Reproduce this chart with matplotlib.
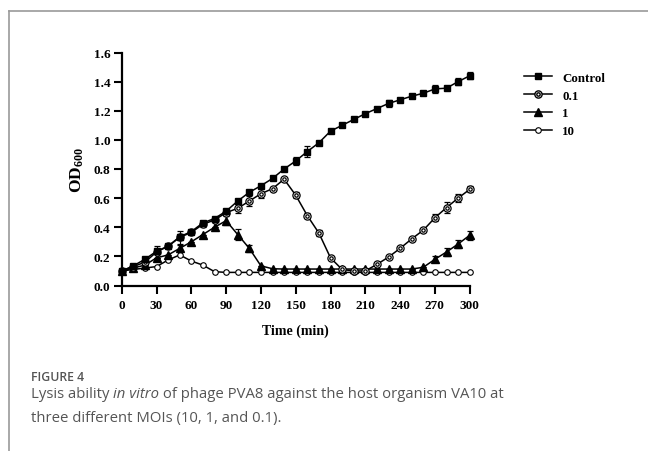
import matplotlib.pyplot as plt
from matplotlib.lines import Line2D
from matplotlib.legend_handler import HandlerTuple

plt.rcParams['font.family'] = ['Liberation Serif', 'DejaVu Serif']
plt.rcParams['mathtext.fontset'] = 'custom'
plt.rcParams['mathtext.bf'] = 'Liberation Serif:bold'
plt.rcParams['mathtext.rm'] = 'Liberation Serif:bold'

time_min = [0, 10, 20, 30, 40, 50, 60, 70, 80, 90, 100, 110, 120, 130, 140, 150,
            160, 170, 180, 190, 200, 210, 220, 230, 240, 250, 260, 270, 280, 290, 300]

control = [0.10, 0.135, 0.18, 0.235, 0.27, 0.335, 0.37, 0.43, 0.46, 0.51, 0.58, 0.64,
           0.685, 0.735, 0.80, 0.855, 0.92, 0.98, 1.06, 1.10, 1.14, 1.18, 1.215, 1.25,
           1.275, 1.30, 1.32, 1.35, 1.355, 1.40, 1.44]
control_err = [0, 0, 0, 0, 0, 0.02, 0, 0, 0, 0, 0, 0, 0, 0, 0, 0.03,
               0.035, 0, 0, 0, 0, 0, 0, 0.025, 0, 0, 0, 0.025, 0, 0.022, 0.025]

moi_01 = [0.10, 0.13, 0.16, 0.23, 0.27, 0.33, 0.365, 0.42, 0.45, 0.50, 0.53, 0.58,
          0.63, 0.665, 0.73, 0.62, 0.48, 0.36, 0.19, 0.11, 0.10, 0.10, 0.145, 0.195,
          0.255, 0.32, 0.38, 0.465, 0.535, 0.60, 0.66]
moi_01_err = [0, 0, 0, 0.04, 0, 0.045, 0, 0.02, 0, 0, 0.03, 0.035, 0.03, 0, 0, 0.02,
              0.015, 0.02, 0, 0, 0, 0, 0, 0, 0, 0, 0.015, 0.025, 0.035, 0.03, 0.02]

moi_1 = [0.10, 0.12, 0.14, 0.19, 0.21, 0.255, 0.30, 0.35, 0.40, 0.445, 0.35, 0.255,
         0.135, 0.115, 0.113, 0.113, 0.113, 0.113, 0.113, 0.113, 0.113, 0.113, 0.113,
         0.113, 0.113, 0.113, 0.125, 0.18, 0.23, 0.285, 0.345]
moi_1_err = [0, 0, 0, 0, 0, 0.02, 0, 0, 0, 0.03, 0.04, 0.025, 0, 0, 0, 0,
             0, 0, 0, 0, 0, 0, 0, 0, 0, 0, 0, 0.02, 0.03, 0.025, 0.03]

moi_10 = [0.10, 0.11, 0.12, 0.13, 0.175, 0.21, 0.168, 0.14, 0.095, 0.09, 0.09, 0.09,
          0.09, 0.09, 0.09, 0.09, 0.09, 0.09, 0.09, 0.09, 0.09, 0.09, 0.09, 0.09,
          0.09, 0.09, 0.09, 0.09, 0.09, 0.09, 0.09]

W, H = 648, 452
fig = plt.figure(figsize=(W / 100, H / 100), dpi=100)
ax = fig.add_axes([121.7 / W, (H - 286.5) / H, 348 / W, 233 / H])

common = dict(color='black', linewidth=1.1, ecolor='black', elinewidth=0.9,
              capsize=2, capthick=0.9, clip_on=False)

ax.errorbar(time_min, moi_10, marker='o', markersize=4.0, markerfacecolor='white',
            markeredgecolor='black', markeredgewidth=0.8, zorder=3, **common)
ax.errorbar(time_min, moi_1, yerr=moi_1_err, marker='^', markersize=5.2,
            markerfacecolor='black', zorder=4, **common)
ax.errorbar(time_min, moi_01, yerr=moi_01_err, marker='o', markersize=5.2,
            markerfacecolor='white', markeredgecolor='black', markeredgewidth=0.9,
            zorder=5, **common)
ax.plot(time_min, moi_01, linestyle='none', marker='o', markersize=2.4,
        markerfacecolor='none', markeredgecolor='black', markeredgewidth=0.9,
        zorder=6, clip_on=False)
ax.errorbar(time_min, control, yerr=control_err, marker='s', markersize=4.0,
            markerfacecolor='black', zorder=6, **common)

ax.set_xlim(0, 300)
ax.set_ylim(0, 1.6)
ax.set_xticks([0, 30, 60, 90, 120, 150, 180, 210, 240, 270, 300])
ax.set_yticks([0.0, 0.2, 0.4, 0.6, 0.8, 1.0, 1.2, 1.4, 1.6])
ax.set_yticklabels([f'{v:.1f}' for v in ax.get_yticks()])
for s in ['top', 'right']:
    ax.spines[s].set_visible(False)
for s in ['left', 'bottom']:
    ax.spines[s].set_linewidth(1.6)
ax.tick_params(direction='out', length=6, width=1.5, pad=2, labelsize=9.5)
ax.tick_params(axis='x', pad=4)
for lab in ax.get_xticklabels() + ax.get_yticklabels():
    lab.set_fontweight('bold')

ax.set_xlabel('Time (min)', fontsize=10, fontweight='bold', labelpad=9)
ax.set_ylabel(r'$\mathbf{OD_{600}}$', fontsize=12.5, labelpad=6)

# legend
h_ctrl = Line2D([], [], color='black', lw=1.1, marker='s', ms=4.0, mfc='black')
h_01a = Line2D([], [], color='black', lw=1.1, marker='o', ms=5.2, mfc='white', mec='black')
h_01b = Line2D([], [], color='none', marker='o', ms=2.4, mfc='none', mec='black')
h_1 = Line2D([], [], color='black', lw=1.1, marker='^', ms=5.2, mfc='black')
h_10 = Line2D([], [], color='black', lw=1.1, marker='o', ms=4.0, mfc='white', mec='black', mew=0.8)
leg = fig.legend([h_ctrl, (h_01a, h_01b), h_1, h_10], ['Control', '0.1', '1', '10'],
                 handler_map={tuple: HandlerTuple(ndivide=1, pad=0)},
                 loc='upper left', bbox_to_anchor=(512 / W, (H - 61) / H),
                 frameon=False, handlelength=2.2, handletextpad=0.8,
                 labelspacing=0.45, prop={'weight': 'bold', 'size': 9.3})

# page frame and caption
fig.add_artist(Line2D([9 / W, 9 / W], [0, (H - 12) / H], color='#9a9a9a', lw=1.2))
fig.add_artist(Line2D([9 / W, 1], [(H - 12) / H, (H - 12) / H], color='#9a9a9a', lw=1.2))

cap = dict(family='Open Sans', fontsize=10.7, color='#555555', va='center', ha='left')
fig.text(31 / W, (H - 378) / H, 'FIGURE 4', family='Open Sans', fontsize=8.8,
         fontweight='semibold', color='#555555', va='center', ha='left')

renderer = fig.canvas.get_renderer()
x0 = 31 / W
y1 = (H - 395) / H
pieces = [('Lysis ability ', 'normal'), ('in vitro', 'italic'),
          (' of phage PVA8 against the host organism VA10 at', 'normal')]
for txt, style in pieces:
    t = fig.text(x0, y1, txt, style=style, **cap)
    bb = t.get_window_extent(renderer=renderer)
    x0 += bb.width / W
fig.text(31 / W, (H - 419) / H, 'three different MOIs (10, 1, and 0.1).', **cap)

fig.savefig('out.png', dpi=100)
